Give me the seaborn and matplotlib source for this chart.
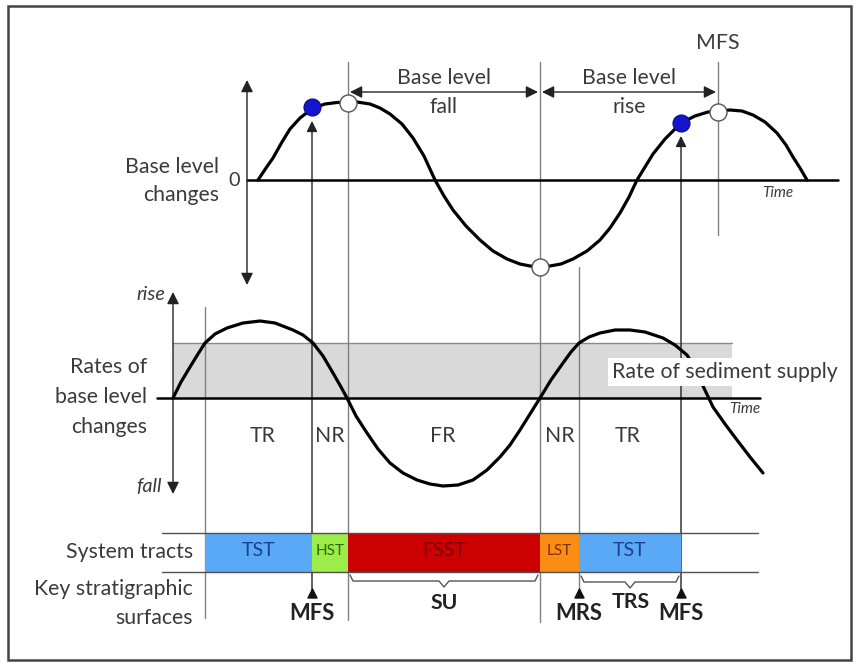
"""
Base level cycle vs. system tracts schematic
Run: python plot.py
"""

import numpy as np
import pandas as pd
import matplotlib.pyplot as plt
import seaborn as sns
from matplotlib.patches import Rectangle

# ── Data (time in px-like units, values = height above the zero line) ──
bl_time = [258, 266, 273, 282, 290, 300, 313, 325, 337, 347, 357, 370, 380,
           390, 402, 413, 424, 435, 444, 453, 466, 480, 493, 507, 520, 530,
           539, 550, 561, 573, 587, 600, 610, 620, 629, 637, 645, 653, 665,
           681, 695, 708, 718, 730, 742, 753, 765, 777, 786, 793, 800, 807]
bl_level = [0, 12, 22, 38, 51, 62, 72, 76, 77.5, 78, 78, 76, 72,
            66, 56, 42, 24, 0, -16, -30, -46, -60, -71, -79, -84, -86,
            -87, -86, -84, -79, -71, -60, -48, -33, -17, 0, 13, 26, 41,
            57, 64, 68, 69, 70, 69, 65, 58, 47, 35, 23, 12, 0]

rate_time = [173, 181, 190, 198, 205, 215, 227, 243, 260, 275, 293, 303, 313,
             323, 333, 341, 347, 356, 367, 378, 390, 403, 417, 430, 443, 458,
             473, 487, 500, 510, 520, 530, 540, 551, 563, 571, 579, 589, 600,
             615, 630, 645, 663, 675, 687, 695, 703, 713, 725, 737, 750, 763]
rate_value = [0, 16, 31, 44, 55, 64, 70, 75, 77, 75, 68, 63, 55,
              42, 25, 11, 0, -18, -35, -51, -65, -75, -82, -86, -88, -87,
              -82, -72, -59, -47, -32, -16, 0, 18, 35, 46, 55, 61, 65,
              68, 68, 66, 60, 53, 43, 30, 12, -9, -26, -42, -59, -75]
sediment_supply = 55

# surfaces on the time axis
t_mfs1, t_peak1, t_trough, t_mrs, t_mfs2, t_peak2 = 312, 348, 540, 579, 681, 718
t_start = 205

dots_time = [312, 348, 540, 681, 718]
dots_level = [73, 77, -87, 57, 68]
dots_kind = ["MFS", "peak", "trough", "MFS", "peak"]

tract_names = ["TST", "HST", "FSST", "LST", "TST"]
tract_start = [205, 312, 348, 540, 579]
tract_end = [312, 348, 540, 579, 681]
tract_fill = ["#59a9f6", "#9cec4a", "#cc0000", "#fb8c14", "#59a9f6"]
tract_text = ["#1d3f8f", "#2f6a00", "#7a0000", "#7a3300", "#1d3f8f"]

regime_names = ["TR", "NR", "FR", "NR", "TR"]
regime_time = [263, 330, 443, 560, 628]

# ── Layout constants (px) ────────────────────────────────────
Y0_TOP, Y0_MID = 180, 398
Y_TR_TOP, Y_TR_BOT = 533, 572
TXT = "#3a3a3a"
LINE = "#808080"
FS = 15.3

sns.set_theme(style="white")
plt.rcParams["font.family"] = ["Lato", "DejaVu Sans"]

fig = plt.figure(figsize=(8.58, 6.64), dpi=100)
ax = fig.add_axes([0, 0, 1, 1])
ax.set_xlim(0, 858)
ax.set_ylim(664, 0)
ax.axis("off")

# frame
ax.add_patch(Rectangle((8, 6), 843, 654, fill=False, lw=1.8, ec="#444444"))

# ── Vertical guide lines ──────────────────────────────────────
guides = [(t_peak1, 62, 620), (t_trough, 62, 622), (t_peak2, 62, 235),
          (t_start, 307, 618), (t_mrs, 267, 590)]
for gx, ya, yb in guides:
    ax.plot([gx, gx], [ya, yb], color=LINE, lw=1.0, zorder=1)

# MFS arrows from the bottom row up to the blue dots
for tx, tip in [(t_mfs1, 121), (t_mfs2, 136)]:
    ax.annotate("", xy=(tx, tip), xytext=(tx, 590),
                arrowprops=dict(arrowstyle="-|>", color="#222222", lw=1.0,
                                mutation_scale=16, shrinkA=0, shrinkB=0),
                zorder=2)

# ── Top panel: base level changes ─────────────────────────────
ax.plot([247, 838], [Y0_TOP, Y0_TOP], color="black", lw=1.8, zorder=2)
ax.annotate("", xy=(247, 80), xytext=(247, 285),
            arrowprops=dict(arrowstyle="<|-|>", color="#222222", lw=1.0,
                            mutation_scale=18, shrinkA=0, shrinkB=0))
top_df = pd.DataFrame({"time": bl_time,
                       "y": [Y0_TOP - v for v in bl_level]})
sns.lineplot(data=top_df, x="time", y="y", ax=ax, color="black", lw=2.3,
             estimator=None, sort=False, zorder=3)

dot_df = pd.DataFrame({"time": dots_time,
                       "y": [Y0_TOP - v for v in dots_level],
                       "kind": dots_kind})
mfs = dot_df[dot_df["kind"] == "MFS"]
ext = dot_df[dot_df["kind"] != "MFS"]
sns.scatterplot(data=mfs, x="time", y="y", ax=ax, s=150, color="#1515d0",
                edgecolor="#0a0a80", linewidth=0.8, zorder=5)
sns.scatterplot(data=ext, x="time", y="y", ax=ax, s=150, color="white",
                edgecolor="#555555", linewidth=1.0, zorder=5)

ax.text(234, Y0_TOP, "0", ha="center", va="center", fontsize=FS - 1, color=TXT)
ax.text(219, 167, "Base level", ha="right", va="center", fontsize=FS, color=TXT)
ax.text(219, 195, "changes", ha="right", va="center", fontsize=FS, color=TXT)
ax.text(778, 193, "Time", ha="center", va="center", fontsize=11,
        style="italic", color=TXT)
ax.text(t_peak2, 43, "MFS", ha="center", va="center", fontsize=FS, color=TXT)

for xa, xb, word in [(t_peak1, t_trough, "fall"), (t_trough, t_peak2, "rise")]:
    ax.annotate("", xy=(xa + 2, 92), xytext=(xb - 2, 92),
                arrowprops=dict(arrowstyle="<|-|>", color="#222222", lw=1.0,
                                mutation_scale=18, shrinkA=0, shrinkB=0))
    xm = (xa + xb) / 2
    ax.text(xm, 78, "Base level", ha="center", va="center", fontsize=FS,
            color=TXT)
    ax.text(xm, 107, word, ha="center", va="center", fontsize=FS, color=TXT)

# ── Middle panel: rates of base level change ──────────────────
ax.add_patch(Rectangle((173, Y0_MID - sediment_supply), 732 - 173,
                       sediment_supply, fc="#d9d9d9", ec="none", zorder=0))
ax.plot([173, 732], [Y0_MID - sediment_supply] * 2, color="#8a8a8a",
        lw=1.0, zorder=1)
ax.plot([157, 760], [Y0_MID, Y0_MID], color="black", lw=1.8, zorder=2)
ax.annotate("", xy=(173, 292), xytext=(173, 494),
            arrowprops=dict(arrowstyle="<|-|>", color="#222222", lw=1.0,
                            mutation_scale=18, shrinkA=0, shrinkB=0))
mid_df = pd.DataFrame({"time": rate_time,
                       "y": [Y0_MID - v for v in rate_value]})
sns.lineplot(data=mid_df, x="time", y="y", ax=ax, color="black", lw=2.3,
             estimator=None, sort=False, zorder=3)

ax.text(165, 294, "rise", ha="right", va="center", fontsize=FS - 1,
        style="italic", color=TXT)
ax.text(162, 486, "fall", ha="right", va="center", fontsize=FS - 1,
        style="italic", color=TXT)
for yy, line in zip([367, 397, 427], ["Rates of", "base level", "changes"]):
    ax.text(147, yy, line, ha="right", va="center", fontsize=FS, color=TXT)
ax.text(838, 372, "Rate of sediment supply", ha="right", va="center",
        fontsize=FS, color=TXT, zorder=6,
        bbox=dict(fc="white", ec="none", pad=3))
ax.text(745, 409, "Time", ha="center", va="center", fontsize=11,
        style="italic", color=TXT, zorder=6)
for name, tx in zip(regime_names, regime_time):
    ax.text(tx, 436, name, ha="center", va="center", fontsize=FS, color=TXT)

# ── Bottom: system tracts and surfaces ────────────────────────
ax.barh([(Y_TR_TOP + Y_TR_BOT) / 2] * len(tract_names),
        [b - a for a, b in zip(tract_start, tract_end)],
        left=tract_start, height=Y_TR_BOT - Y_TR_TOP, color=tract_fill,
        edgecolor="none", zorder=2)
for yy in (Y_TR_TOP, Y_TR_BOT):
    ax.plot([162, 758], [yy, yy], color="#505050", lw=1.0, zorder=3)
for name, a, b, fc in zip(tract_names, tract_start, tract_end, tract_text):
    narrow = (b - a) < 45
    ax.text((a + b) / 2, 551, name, ha="center", va="center",
            fontsize=11 if narrow else 14, color=fc, zorder=4)

ax.text(193, 552, "System tracts", ha="right", va="center", fontsize=FS,
        color=TXT)
ax.text(193, 589, "Key stratigraphic", ha="right", va="center", fontsize=FS,
        color=TXT)
ax.text(193, 618, "surfaces", ha="right", va="center", fontsize=FS, color=TXT)


def brace(x0, x1, y0, depth=6):
    xm = (x0 + x1) / 2
    xs = [x0, x0 + 3, xm - 5, xm, xm + 5, x1 - 3, x1]
    ys = [y0, y0 + depth, y0 + depth, y0 + 2 * depth, y0 + depth,
          y0 + depth, y0]
    ax.plot(xs, ys, color="#555555", lw=1.0, zorder=3)


brace(tract_start[2] + 2, tract_end[2] - 2, 575)
brace(tract_start[4] + 2, tract_end[4] - 2, 576)
ax.text(444, 603, "SU", ha="center", va="center", fontsize=FS,
        fontweight="bold", color="#222222")
ax.text(631, 602, "TRS", ha="center", va="center", fontsize=FS,
        fontweight="bold", color="#222222")

surf_names = ["MFS", "MRS", "MFS"]
surf_time = [t_mfs1, t_mrs, t_mfs2]
ax.scatter(surf_time, [593] * 3, marker="^", s=42, color="#111111", zorder=4)
for name, tx in zip(surf_names, surf_time):
    ax.text(tx, 613, name, ha="center", va="center", fontsize=FS + 0.5,
            fontweight="bold", color="#222222")

fig.savefig("out.png", dpi=100)
